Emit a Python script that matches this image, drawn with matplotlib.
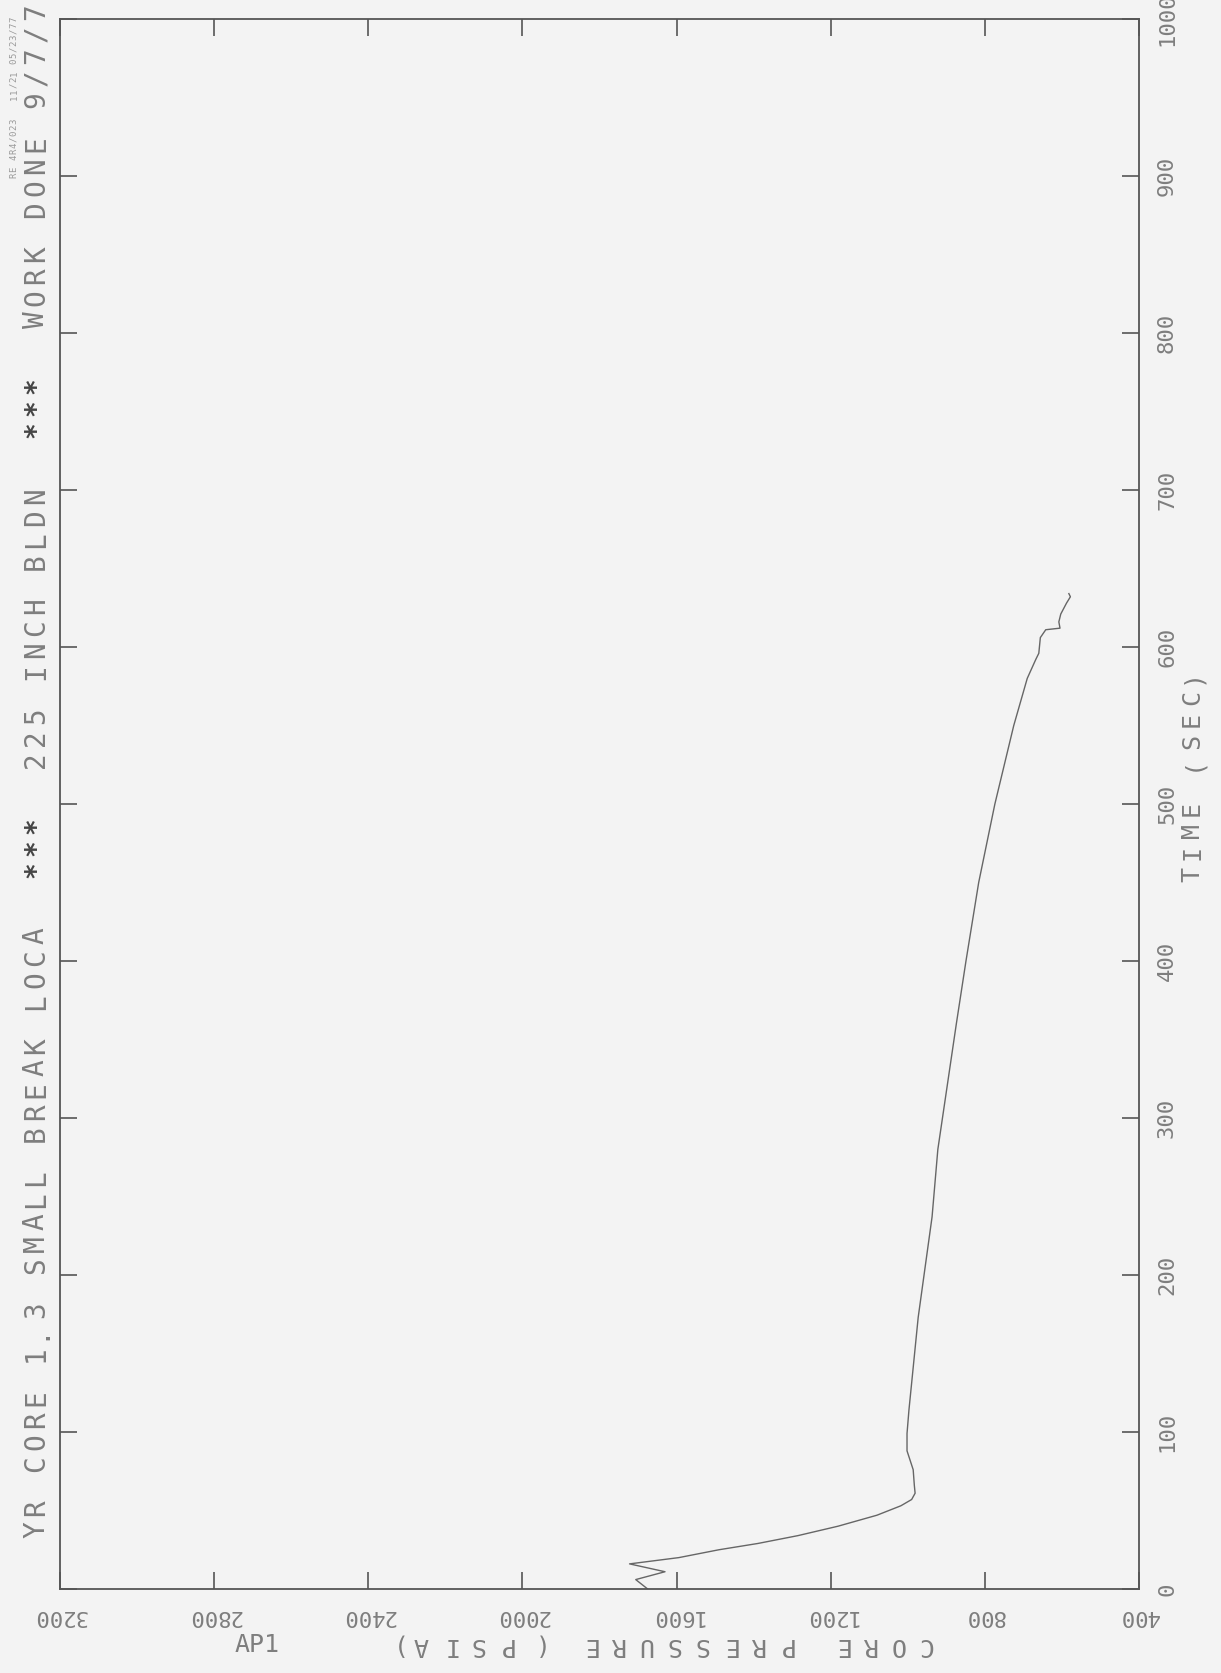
import matplotlib
matplotlib.use("Agg")
import matplotlib.pyplot as plt

# Core pressure transient, 225 inch blowdown
time_s = [0, 6, 11, 16, 20, 25, 29, 34, 40, 47, 53, 57, 61, 66, 76, 88, 99,
          114, 141, 173, 205, 237, 280, 320, 360, 400, 450, 500, 550, 580,
          592, 596, 606, 611, 612, 616, 621, 628, 632, 634]
pressure_psia = [1675, 1706, 1630, 1722, 1594, 1490, 1389, 1285, 1181, 1080,
                 1018, 990, 981, 983, 986, 1002, 1002, 997, 986, 973, 955,
                 937, 922, 898, 874, 849, 816, 774, 725, 690, 668, 660, 656,
                 642, 605, 608, 603, 588, 578, 582]

pressure_ticks = [3200, 2800, 2400, 2000, 1600, 1200, 800, 400]
time_ticks = [0, 100, 200, 300, 400, 500, 600, 700, 800, 900, 1000]

title = "YR CORE 1.3 SMALL BREAK LOCA  ***  225 INCH BLDN  ***  WORK DONE 9/7/7"
stamp = "RE 4R4/023   11/21 05/23/77"
xlabel = "CORE PRESSURE (PSIA)"
ylabel = "TIME (SEC)"

W, H = 1221, 1673
BG = "#f3f3f3"
INK = "#555555"
TXT = "#7e7e7e"
MONO = ["DejaVu Sans Mono"]

fig = plt.figure(figsize=(W / 100, H / 100), dpi=100, facecolor=BG)
ax = fig.add_axes([60 / W, 1 - 1589 / H, 1079 / W, (1589 - 19) / H])
ax.set_facecolor(BG)

# the page is a landscape plot turned on its side: pressure runs right to left
ax.plot(pressure_psia, time_s, color="#666666", lw=1.0)
ax.set_xlim(3200, 400)
ax.set_ylim(0, 1000)

for s in ax.spines.values():
    s.set_color(INK)
    s.set_linewidth(1.3)

ax.set_xticks(pressure_ticks)
ax.set_xticklabels([str(p) for p in pressure_ticks])
ax.set_yticks(time_ticks)
ax.set_yticklabels([str(t) for t in time_ticks])
ax.tick_params(axis="both", direction="in", length=12, width=1.2, color=INK,
               top=True, right=True, labelcolor=TXT, labelsize=16)
ax.tick_params(axis="x", labelrotation=180, pad=12)
ax.tick_params(axis="y", left=True, labelleft=False, labelright=True,
               labelrotation=90, pad=13)
for lab in ax.get_xticklabels() + ax.get_yticklabels():
    lab.set_family(MONO)
for lab in ax.get_yticklabels():
    lab.set_va("center")


def spaced(x, y, s, step, angle, size, color=TXT):
    # plotter-style text: one glyph per fixed step, in pixel coordinates from top-left
    dx, dy = (0, -step) if angle == 90 else (-step, 0)
    for i, ch in enumerate(s):
        if ch == " ":
            continue
        star = ch == "*"
        fig.text((x + i * dx) / W, 1 - (y + i * dy) / H, ch, rotation=angle,
                 ha="center", va="center", fontsize=size, family=MONO,
                 color="#444444" if star else color,
                 fontweight="bold" if star else "normal")


spaced(36, 1530, title, 22, 90, 20)
spaced(14, 175, stamp, 6, 90, 6.5, color="#9a9a9a")
spaced(1192, 874, ylabel, 22, 90, 18)
spaced(925, 1645, xlabel, 28, 180, 18)
fig.text(257 / W, 1 - 1645 / H, "AP1", ha="center", va="center", fontsize=18,
         family=MONO, color=TXT)

fig.savefig("out.png", dpi=100, facecolor=BG)
